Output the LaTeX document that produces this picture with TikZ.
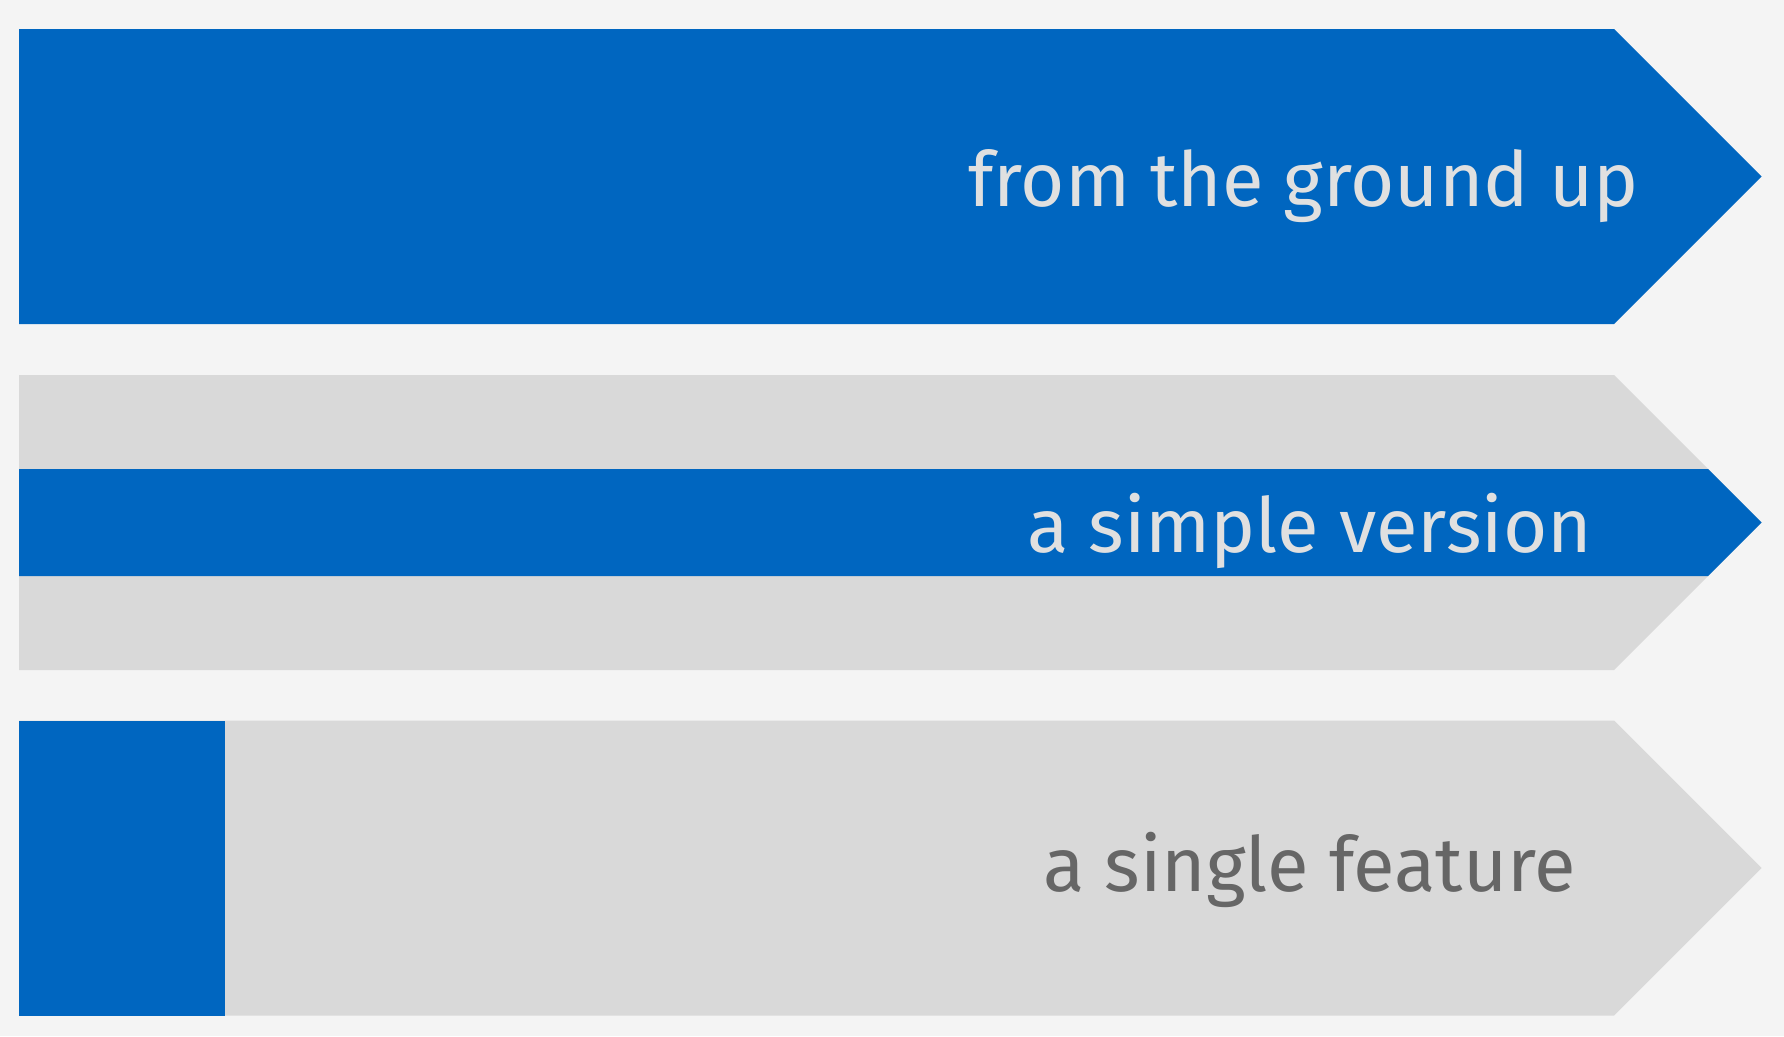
\documentclass[tikz,border=0pt]{standalone}
\usepackage{fontspec}
\setmainfont{Fira Sans}
\definecolor{bgc}{HTML}{F4F4F4}
\definecolor{bluec}{HTML}{0066C0}
\definecolor{grayc}{HTML}{D9D9D9}
\definecolor{lighttext}{HTML}{E0E0E0}
\definecolor{darktext}{HTML}{666666}
\tikzset{
  lbl/.style={anchor=base west, inner sep=0pt, font=\fontsize{76}{88}\selectfont},
}
\begin{document}
\begin{tikzpicture}[x=1pt,y=-1pt]
\fill[bgc] (0,0) rectangle (1784,1036);
\useasboundingbox (0,0) rectangle (1784,1036);
% arrow 1
\fill[bluec] (19,29) -- (1614,29) -- (1761.5,176.5) -- (1614,324) -- (19,324) -- cycle;
% arrow 2
\fill[grayc] (19,375) -- (1614,375) -- (1761.5,522.5) -- (1614,670) -- (19,670) -- cycle;
\fill[bluec] (19,469) -- (1708,469) -- (1761.5,522.5) -- (1708,576) -- (19,576) -- cycle;
% arrow 3
\fill[grayc] (19,720.5) -- (1614,720.5) -- (1761.5,868) -- (1614,1015.5) -- (19,1015.5) -- cycle;
\fill[bluec] (19,720.5) rectangle (225,1015.5);
% labels
\node[lbl, text=lighttext] (t1) at (968,206.7) {from the ground up};
\node[lbl, text=lighttext] (t2) at (1027,552.7) {a simple version};
\node[lbl, text=darktext] (t3) at (1043,891.7) {a single feature};
\end{tikzpicture}
\end{document}
